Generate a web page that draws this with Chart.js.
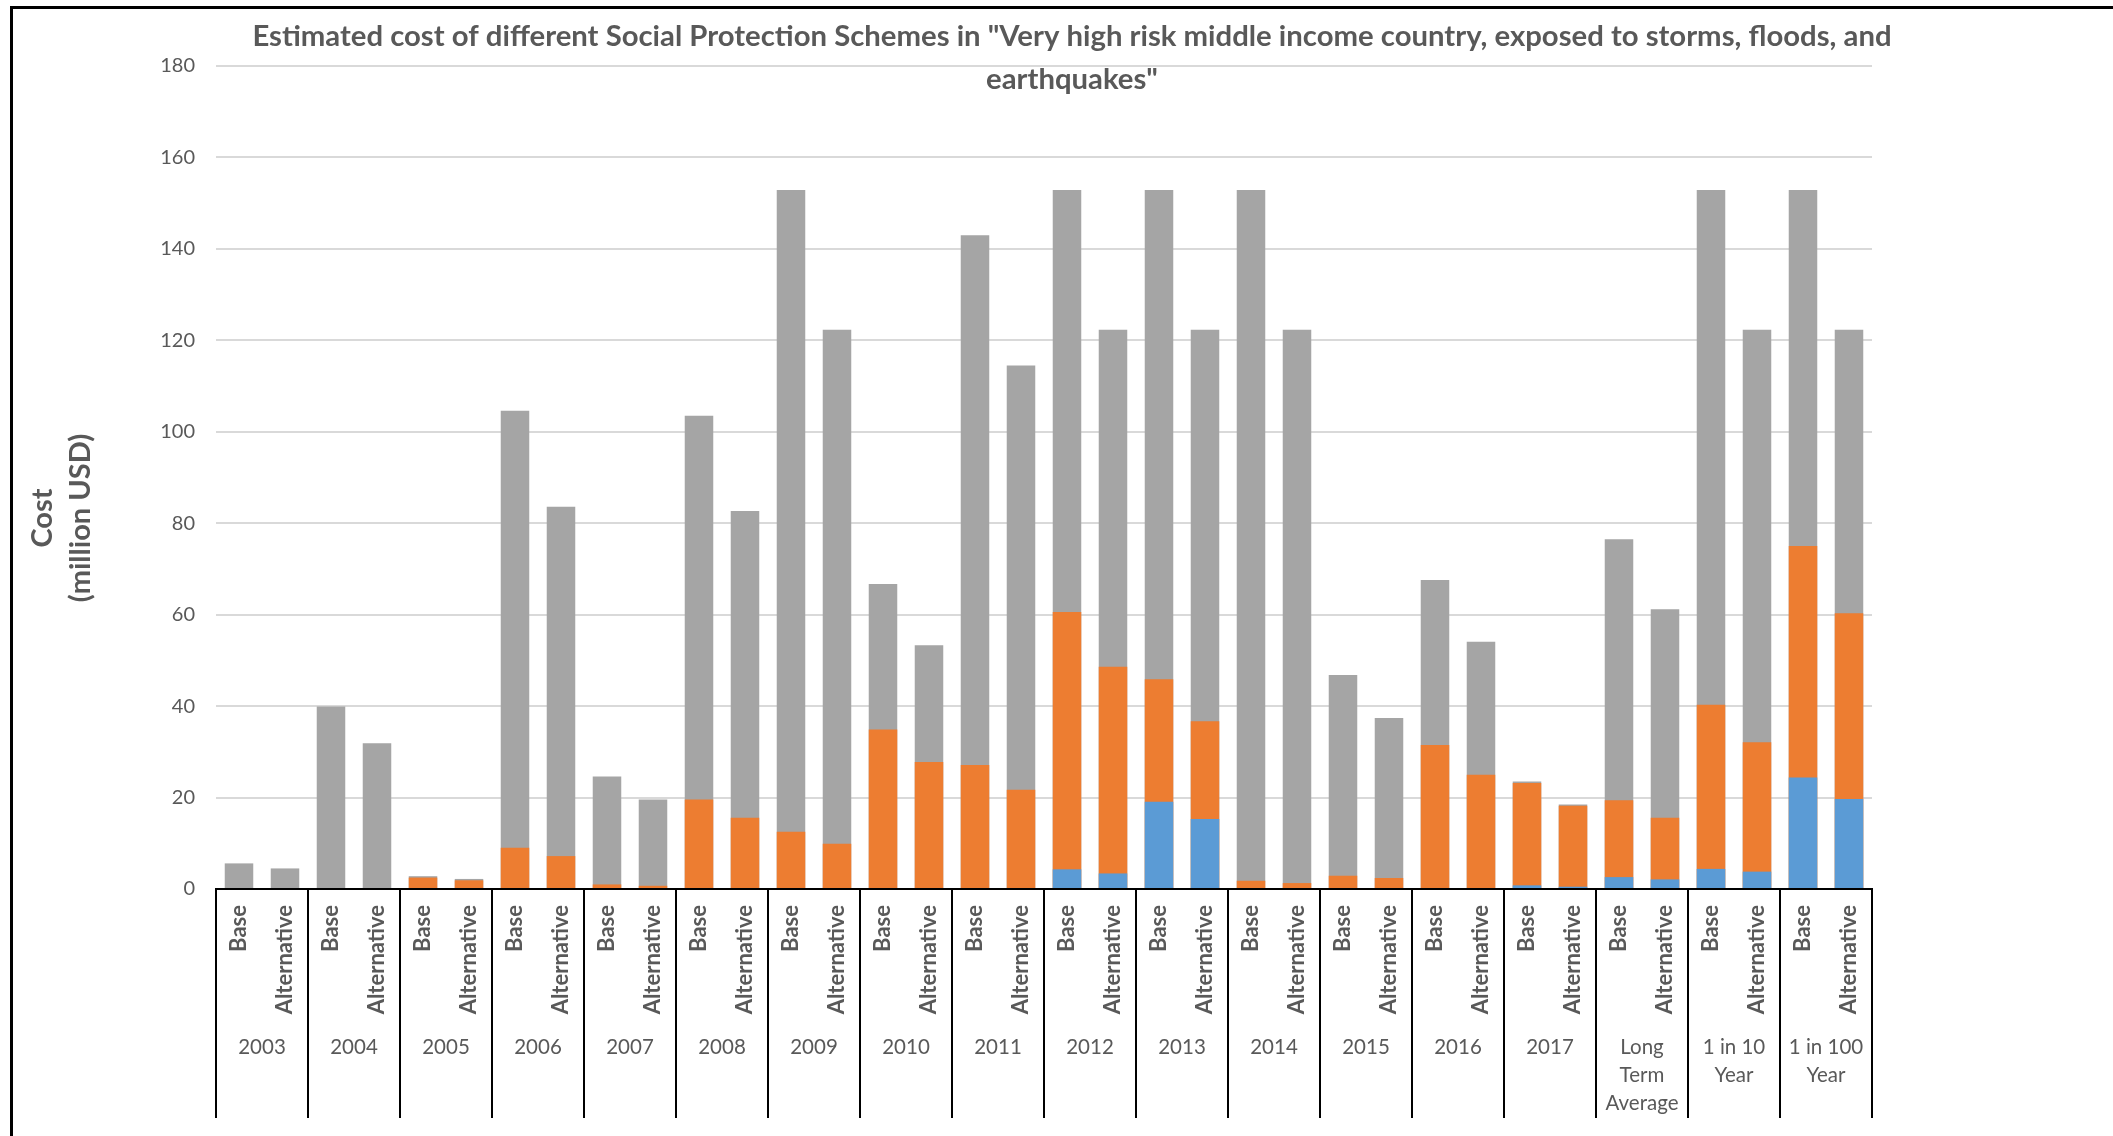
<!DOCTYPE html>
<html>
<head>
<meta charset="utf-8">
<title>Estimated cost of different Social Protection Schemes</title>
<script src="https://cdn.jsdelivr.net/npm/chart.js@4.4.1/dist/chart.umd.min.js"></script>
<style>
  html, body { margin: 0; padding: 0; background: #ffffff; }
  #wrap { position: relative; width: 2113px; height: 1136px; overflow: hidden; }
  #frame { position: absolute; left: 10px; top: 6px; right: -10px; bottom: -10px;
           border-top: 3px solid #000; border-left: 3px solid #000; }
  #c { position: absolute; left: 0; top: 0; }
</style>
</head>
<body>
<div id="wrap">
  <div id="frame"></div>
  <canvas id="c" width="2113" height="1136"></canvas>
</div>
<script>
// Periods (outer axis level) and the two schemes shown for each period (inner level)
const periods = ['2003', '2004', '2005', '2006', '2007', '2008', '2009', '2010', '2011',
                 '2012', '2013', '2014', '2015', '2016', '2017',
                 ['Long', 'Term', 'Average'], ['1 in 10', 'Year'], ['1 in 100', 'Year']];
const schemes = ['Base', 'Alternative'];
const categories = periods.flatMap(() => schemes);

// Cost in million USD, one value per Base / Alternative bar (drawn overlapping, gray at the back)
const grayCost = [5.6, 4.5, 39.9, 31.9, 2.8, 2.2, 104.6, 83.6, 24.6, 19.6, 103.5, 82.7,
                  152.9, 122.3, 66.7, 53.3, 143.0, 114.5, 152.9, 122.3, 152.9, 122.3,
                  152.9, 122.3, 46.8, 37.4, 67.6, 54.1, 23.5, 18.5, 76.5, 61.2,
                  152.9, 122.3, 152.9, 122.3];
const orangeCost = [0, 0, 0, 0, 2.5, 1.9, 9.0, 7.2, 1.0, 0.7, 19.6, 15.6,
                    12.5, 9.9, 34.9, 27.8, 27.1, 21.7, 60.6, 48.6, 45.9, 36.7,
                    1.8, 1.3, 2.9, 2.4, 31.5, 25.0, 23.2, 18.2, 19.4, 15.6,
                    40.3, 32.1, 75.0, 60.3];
const blueCost = [0, 0, 0, 0, 0, 0, 0, 0, 0, 0, 0, 0,
                  0, 0, 0, 0, 0, 0, 4.3, 3.4, 19.1, 15.3,
                  0, 0, 0, 0, 0, 0, 0.8, 0.5, 2.6, 2.1,
                  4.4, 3.8, 24.4, 19.7];

const yTicks = { min: 0, max: 180, step: 20 };
const titleLines = ['Estimated cost of different Social Protection Schemes in "Very high risk middle income country, exposed to storms, floods, and',
                    'earthquakes"'];
const yTitleLines = ['Cost', '(million USD)'];

const TEXT = '#595959';

// Chart title and rotated value-axis title
const headings = {
  id: 'headings',
  afterDraw(chart) {
    const ctx = chart.ctx;
    ctx.save();
    ctx.fillStyle = TEXT;
    ctx.textAlign = 'center';
    ctx.textBaseline = 'alphabetic';
    ctx.font = 'bold 29.3px Lato';
    ctx.fillText(titleLines[0], 1072, 46);
    ctx.fillText(titleLines[1], 1072, 89);

    ctx.font = 'bold 29px Lato';
    ctx.textBaseline = 'middle';
    const xs = [43, 81];
    yTitleLines.forEach((line, i) => {
      ctx.save();
      ctx.translate(xs[i], 518);
      ctx.rotate(-Math.PI / 2);
      ctx.fillText(line, 0, 0);
      ctx.restore();
    });
    ctx.restore();
  }
};

const barStyle = { barPercentage: 0.62, categoryPercentage: 1.0, borderWidth: 0 };

new Chart(document.getElementById('c'), {
  type: 'bar',
  data: {
    labels: categories,
    datasets: [
      Object.assign({ label: 'Series 3', data: blueCost, backgroundColor: '#5B9BD5' }, barStyle),
      Object.assign({ label: 'Series 2', data: orangeCost, backgroundColor: '#ED7D31' }, barStyle),
      Object.assign({ label: 'Series 1', data: grayCost, backgroundColor: '#A5A5A5' }, barStyle)
    ]
  },
  options: {
    responsive: false,
    animation: false,
    events: [],
    layout: { padding: { top: 66, right: 241, left: 0, bottom: 0 } },
    plugins: { legend: { display: false }, tooltip: { enabled: false }, title: { display: false } },
    scales: {
      y: {
        stacked: false,
        min: yTicks.min,
        max: yTicks.max,
        border: { display: false },
        grid: { color: '#D9D9D9', lineWidth: 2, drawTicks: false },
        ticks: { stepSize: yTicks.step, color: TEXT, font: { family: 'Lato', size: 20 }, padding: 21 },
        afterFit(scale) { scale.width = 216; }
      },
      x: {
        stacked: true,
        offset: true,
        weight: 0,
        border: { display: true, color: '#000000', width: 2 },
        grid: {
          offset: true,
          drawOnChartArea: false,
          drawTicks: true,
          tickLength: 229,
          lineWidth: 2,
          color: (ctx) => (ctx.index === undefined || ctx.index % 2 === 0) ? '#000000' : 'rgba(0,0,0,0)'
        },
        ticks: {
          autoSkip: false,
          minRotation: 90,
          maxRotation: 90,
          padding: -213,
          color: TEXT,
          font: { family: 'Lato', size: 22, weight: 'bold' }
        },
        afterFit(scale) { scale.height = 130; }
      },
      x2: {
        type: 'category',
        position: 'bottom',
        labels: periods,
        offset: true,
        weight: 1,
        border: { display: false },
        grid: { display: false, drawTicks: false },
        ticks: {
          autoSkip: false,
          maxRotation: 0,
          minRotation: 0,
          padding: 14,
          color: TEXT,
          font: { family: 'Lato', size: 20.5, lineHeight: 1.37 }
        },
        afterFit(scale) { scale.height = 117; }
      }
    }
  },
  plugins: [headings]
});
</script>
</body>
</html>
